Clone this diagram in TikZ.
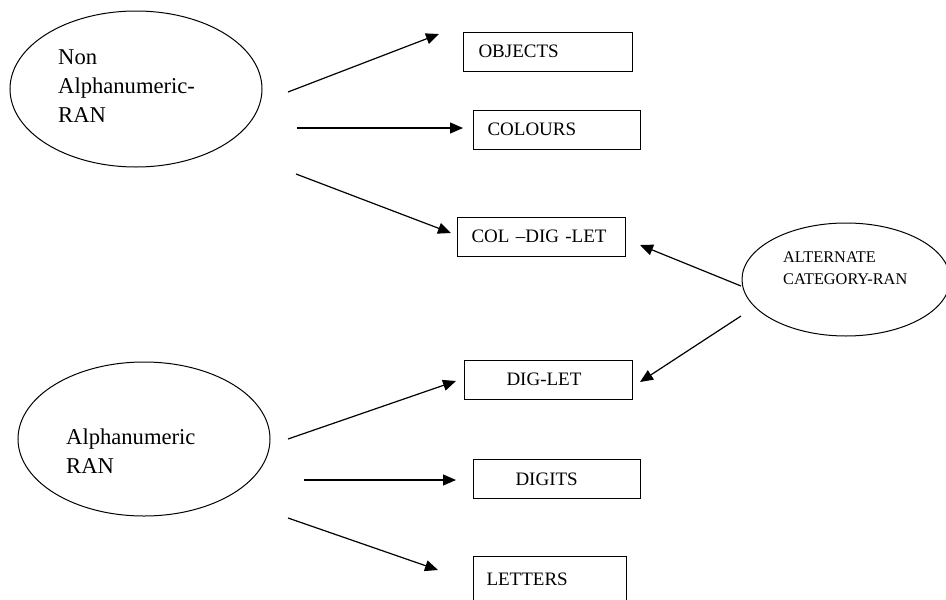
\documentclass[tikz,border=0pt]{standalone}
\usepackage{fontspec}
\setmainfont{Liberation Serif}
\usetikzlibrary{arrows.meta,shapes.geometric}
\begin{document}
\begin{tikzpicture}[x=1pt,y=-1pt,
  ell/.style={draw,ellipse,line width=1pt,inner sep=0pt},
  box/.style={draw,rectangle,line width=1pt,anchor=west,align=left,font=\fontsize{19}{22}\selectfont,minimum height=39pt,inner ysep=0pt},
  bigtxt/.style={anchor=west,align=left,inner sep=0pt,font=\fontsize{22.6}{29}\selectfont},
  smalltxt/.style={anchor=west,align=left,inner sep=0pt,font=\fontsize{16.3}{22}\selectfont},
  conn/.style={line width=1.2pt,-{Triangle[length=13pt,width=11pt]}}]
\useasboundingbox (0,0) rectangle (946,600);
\clip (0,0) rectangle (946,600);
% ellipses
\node[ell,minimum width=252pt,minimum height=156pt] (nonalpha) at (136,89) {};
\node[bigtxt] (nonalphatxt) at (58,86) {Non\\Alphanumeric-\\RAN};
\node[ell,minimum width=252pt,minimum height=154pt] (alpha) at (144,439) {};
\node[bigtxt] (alphatxt) at (66,451) {Alphanumeric\\RAN};
\node[ell,minimum width=208pt,minimum height=113pt] (alt) at (846,279.5) {};
\node[smalltxt] (alttxt) at (783,268) {ALTERNATE\\CATEGORY-RAN};
% boxes
\node[box,inner xsep=15pt,text width=139pt] (objects) at (463,51.5) {OBJECTS};
\node[box,inner xsep=14pt,text width=139pt] (colours) at (473,129.5) {COLOURS};
\node[box,inner xsep=14pt,text width=140pt] (coldiglet) at (457,236.5) {COL –DIG -LET};
\node[box,inner xsep=42pt,text width=84pt] (diglet) at (464,379.5) {DIG-LET};
\node[box,inner xsep=42pt,text width=83pt] (digits) at (473,479) {DIGITS};
\node[box,inner xsep=13pt,text width=127pt,minimum height=46pt] (letters) at (473,579) {LETTERS};
% connector ends
\coordinate (a1s) at (288,92);  \coordinate (a1e) at (439,34);
\coordinate (a2s) at (297,128); \coordinate (a2e) at (463,128);
\coordinate (a3s) at (296,174); \coordinate (a3e) at (451,233);
\coordinate (a4s) at (741,286); \coordinate (a4e) at (640,245);
\coordinate (a5s) at (741,316); \coordinate (a5e) at (640,382);
\coordinate (a6s) at (288,439); \coordinate (a6e) at (456,381);
\coordinate (a7s) at (304,480); \coordinate (a7e) at (456,480);
\coordinate (a8s) at (288,518); \coordinate (a8e) at (438,570);
\draw[conn] (a1s) -- (a1e);
\draw[conn] (a2s) -- (a2e);
\draw[conn] (a3s) -- (a3e);
\draw[conn] (a4s) -- (a4e);
\draw[conn] (a5s) -- (a5e);
\draw[conn] (a6s) -- (a6e);
\draw[conn] (a7s) -- (a7e);
\draw[conn] (a8s) -- (a8e);
\end{tikzpicture}
\end{document}
